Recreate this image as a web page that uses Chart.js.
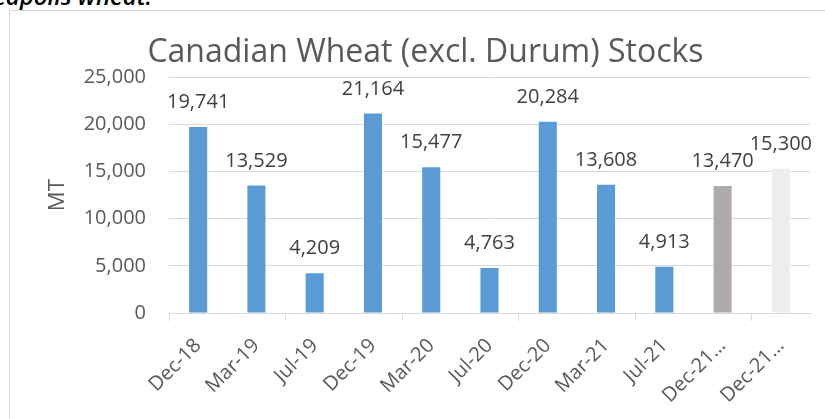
<!DOCTYPE html>
<html>
<head>
<meta charset="utf-8">
<script src="https://cdn.jsdelivr.net/npm/chart.js@4"></script>
<style>
  html, body { margin: 0; padding: 0; background: #ffffff; overflow: hidden; }
  #wrap { position: relative; width: 825px; height: 419px; overflow: hidden; background: #fff; }
  #frame { position: absolute; left: 9px; top: 10px; width: 830px; height: 420px;
           border-left: 1px solid #d9d9d9; border-top: 1px solid #d9d9d9; }
  #note { position: absolute; right: 673px; top: -18px; font-family: "Open Sans", sans-serif;
          font-style: italic; font-weight: 600; font-size: 24px; line-height: 28px; color: #000; white-space: nowrap; }
  canvas { position: absolute; left: 0; top: 0; }
</style>
</head>
<body>
<div id="wrap">
  <div id="note">in Minneapolis wheat.</div>
  <div id="frame"></div>
  <canvas id="c" width="825" height="419"></canvas>
</div>
<script>
const categories = ["Dec-18","Mar-19","Jul-19","Dec-19","Mar-20","Jul-20","Dec-20","Mar-21","Jul-21","Dec-21\u2026","Dec-21\u2026"];
const stocks = [19741, 13529, 4209, 21164, 15477, 4763, 20284, 13608, 4913, 13470, 15300];
const barColors = ["#5B9BD5","#5B9BD5","#5B9BD5","#5B9BD5","#5B9BD5","#5B9BD5","#5B9BD5","#5B9BD5","#5B9BD5","#AEAAAA","#EDEDED"];
const yTicks = [0, 5000, 10000, 15000, 20000, 25000];
const chartTitle = "Canadian Wheat (excl. Durum) Stocks";
const yTitle = "MT";

const fmt = v => v.toLocaleString('en-US');
const FONT = '"Open Sans", sans-serif';

const valueLabels = {
  id: 'valueLabels',
  afterDatasetsDraw(chart) {
    const ctx = chart.ctx;
    const meta = chart.getDatasetMeta(0);
    ctx.save();
    ctx.font = '20px ' + FONT;
    ctx.fillStyle = '#404040';
    ctx.textAlign = 'center';
    ctx.textBaseline = 'alphabetic';
    meta.data.forEach((bar, i) => {
      ctx.fillText(fmt(stocks[i]), bar.x, bar.y - 19);
    });
    ctx.restore();
  }
};

new Chart(document.getElementById('c'), {
  type: 'bar',
  data: {
    labels: categories,
    datasets: [{
      data: stocks,
      backgroundColor: barColors,
      borderWidth: 0,
      categoryPercentage: 1.0,
      barPercentage: 0.31
    }]
  },
  options: {
    responsive: false,
    animation: false,
    devicePixelRatio: 1,
    layout: { padding: { left: 41, right: 15, top: 0, bottom: 0 } },
    plugins: {
      legend: { display: false },
      tooltip: { enabled: false },
      title: {
        display: true,
        text: chartTitle,
        color: '#595959',
        font: { family: FONT, size: 32, weight: 'normal' },
        padding: { top: 34, bottom: 5 }
      }
    },
    scales: {
      x: {
        afterFit(scale) { scale.height = 106; },
        grid: {
          offset: true,
          drawOnChartArea: false,
          drawTicks: true,
          tickLength: 8,
          tickColor: ctx => (ctx.index !== undefined && ctx.index % 2 === 0) ? '#d9d9d9' : 'rgba(0,0,0,0)',
          color: '#d9d9d9'
        },
        border: { display: true, color: '#d9d9d9', width: 1 },
        ticks: {
          autoSkip: false,
          maxRotation: 45,
          minRotation: 45,
          color: '#595959',
          font: { family: FONT, size: 20 },
          padding: 13
        }
      },
      y: {
        min: 0,
        max: 25000,
        afterFit(scale) { scale.width = 128; },
        afterBuildTicks(scale) { scale.ticks = yTicks.map(v => ({ value: v })); },
        grid: { color: '#d9d9d9', drawTicks: false, lineWidth: 1 },
        border: { display: false },
        ticks: {
          color: '#595959',
          font: { family: FONT, size: 20 },
          padding: 23,
          callback: v => fmt(v)
        },
        title: {
          display: true,
          text: yTitle,
          color: '#595959',
          font: { family: FONT, size: 22 },
          padding: { top: 4, bottom: 0 }
        }
      }
    }
  },
  plugins: [valueLabels]
});
</script>
</body>
</html>
